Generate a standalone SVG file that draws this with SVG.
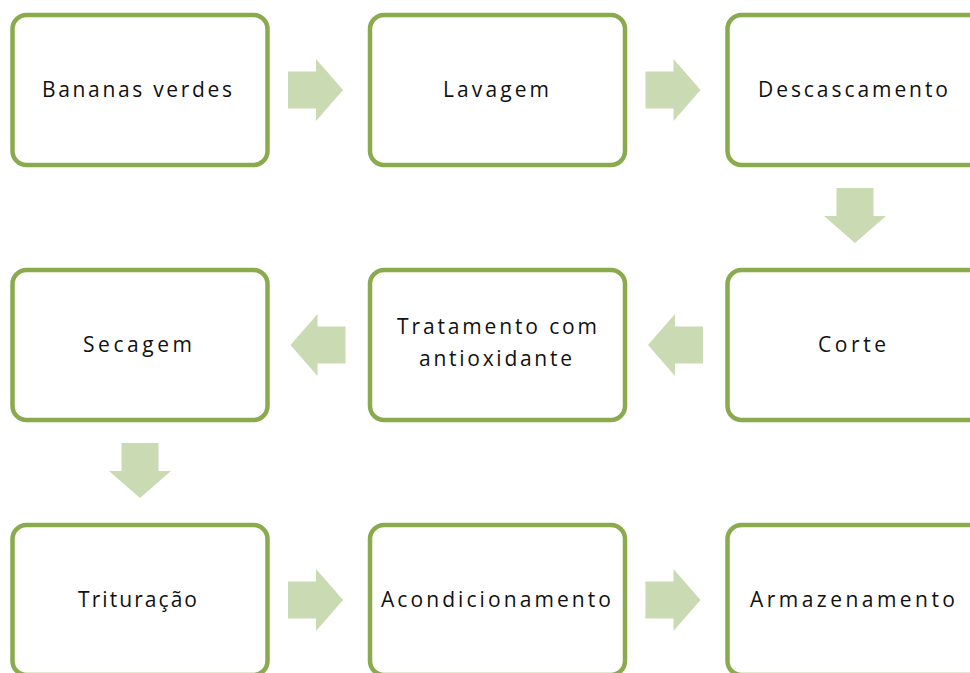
<svg xmlns="http://www.w3.org/2000/svg" width="970" height="673" viewBox="0 0 970 673">
<style>
.box{fill:#fff;stroke:#8aab4d;stroke-width:4.5}
.arr{fill:#cadab2}
.t{font-family:"Open Sans","Liberation Sans",sans-serif;font-size:21px;fill:#111;text-anchor:middle}
</style>
<defs>
<path id="ar" d="M0,-18.5 H28 V-31 L55,0 L28,31 V18.5 H0 Z"/>
</defs>
<rect width="970" height="673" fill="#fff"/>
<g id="connectors">
<use href="#ar" class="arr" transform="translate(288,90)"/>
<use href="#ar" class="arr" transform="translate(645.5,90)"/>
<use href="#ar" class="arr" transform="translate(855,188) rotate(90)"/>
<use href="#ar" class="arr" transform="translate(703,345) rotate(180)"/>
<use href="#ar" class="arr" transform="translate(345.5,345) rotate(180)"/>
<use href="#ar" class="arr" transform="translate(140,443) rotate(90)"/>
<use href="#ar" class="arr" transform="translate(288,600)"/>
<use href="#ar" class="arr" transform="translate(645.5,600)"/>
</g>
<g id="n1"><rect class="box" x="12.5" y="15" width="255" height="150" rx="14"/><text class="t" x="137" y="97" textLength="190" lengthAdjust="spacing">Bananas verdes</text></g>
<g id="n2"><rect class="box" x="370" y="15" width="255" height="150" rx="14"/><text class="t" x="496" y="97" textLength="106" lengthAdjust="spacing">Lavagem</text></g>
<g id="n3"><rect class="box" x="727.5" y="15" width="255" height="150" rx="14"/><text class="t" x="853" y="97" textLength="190" lengthAdjust="spacing">Descascamento</text></g>
<g id="n4"><rect class="box" x="727.5" y="270" width="255" height="150" rx="14"/><text class="t" x="852" y="352" textLength="68" lengthAdjust="spacing">Corte</text></g>
<g id="n5"><rect class="box" x="370" y="270" width="255" height="150" rx="14"/><text class="t" x="497" y="334" textLength="200" lengthAdjust="spacing">Tratamento com</text><text class="t" x="495.5" y="366" textLength="153" lengthAdjust="spacing">antioxidante</text></g>
<g id="n6"><rect class="box" x="12.5" y="270" width="255" height="150" rx="14"/><text class="t" x="137.5" y="352" textLength="109" lengthAdjust="spacing">Secagem</text></g>
<g id="n7"><rect class="box" x="12.5" y="525" width="255" height="150" rx="14"/><text class="t" x="137.5" y="607" textLength="119" lengthAdjust="spacing">Trituração</text></g>
<g id="n8"><rect class="box" x="370" y="525" width="255" height="150" rx="14"/><text class="t" x="496" y="607" textLength="230" lengthAdjust="spacing">Acondicionamento</text></g>
<g id="n9"><rect class="box" x="727.5" y="525" width="255" height="150" rx="14"/><text class="t" x="852.5" y="607" textLength="205" lengthAdjust="spacing">Armazenamento</text></g>
</svg>
